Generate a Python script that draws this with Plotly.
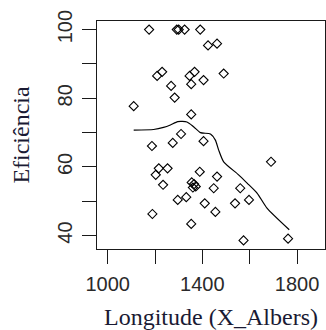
import plotly.graph_objects as go

# Scatter data
longitude = [1175, 1292, 1300, 1325, 1391, 1424, 1462, 1209, 1230, 1346, 1367, 1490,
             1405, 1353, 1268, 1283, 1110, 1353, 1310, 1187, 1275, 1405, 1690, 1216,
             1253, 1203, 1234, 1389, 1462, 1355, 1365, 1372, 1360, 1448, 1560, 1296,
             1332, 1597, 1410, 1538, 1455, 1189, 1353, 1574, 1762]
eficiencia = [100, 100, 100, 100, 100, 95.4, 95.9, 86.5, 87.7, 86.5, 87.7, 87.2,
              85.3, 84.1, 83.6, 80.2, 77.7, 75.3, 69.6, 66.1, 67.0, 67.5, 61.5, 59.6,
              59.6, 57.7, 54.8, 58.6, 57.2, 55.5, 55.0, 54.3, 54.0, 53.8, 53.8, 50.4,
              51.2, 50.4, 49.4, 49.4, 46.9, 46.3, 43.4, 38.6, 39.1]

# Smoothed (lowess) curve
smooth_x = [1110, 1194, 1236, 1265, 1296, 1335, 1363, 1392, 1434, 1455, 1469, 1490,
            1553, 1589, 1631, 1673, 1767]
smooth_y = [70.7, 70.9, 71.5, 72.2, 73.2, 73.1, 71.7, 70.0, 69.6, 67.8, 64.9, 61.5,
            57.7, 55.3, 52.4, 48.0, 41.7]

x_tickvals = [1000, 1200, 1400, 1600, 1800]
x_ticktext = ["1000", "", "1400", "", "1800"]
y_tickvals = [40, 50, 60, 70, 80, 90, 100]
y_ticktext = ["40", "", "60", "", "80", "", "100"]

ink = "#1a1a1a"
tick_color = "#2a2a2a"
title_color = "#1a1a33"

fig = go.Figure()
fig.add_trace(go.Scatter(
    x=longitude, y=eficiencia, mode="markers",
    marker=dict(symbol="diamond-open", size=7, color="black", line=dict(width=1.1, color="black")),
    showlegend=False, hoverinfo="skip"))
fig.add_trace(go.Scatter(
    x=smooth_x, y=smooth_y, mode="lines",
    line=dict(color="black", width=1.2, shape="spline", smoothing=0.6),
    showlegend=False, hoverinfo="skip"))

fig.update_layout(
    width=326, height=330,
    margin=dict(l=97, r=1, t=21, b=81),
    plot_bgcolor="white", paper_bgcolor="white",
    xaxis=dict(
        range=[955, 1918], tickvals=x_tickvals, ticktext=x_ticktext,
        ticks="outside", ticklen=14, tickwidth=1.2, tickcolor=ink,
        showline=True, mirror=True, linecolor=ink, linewidth=1.3,
        showgrid=False, zeroline=False, automargin=False,
        ticklabelstandoff=3,
        tickfont=dict(family="Liberation Sans", size=20, color=tick_color),
        title=dict(text="Longitude (X_Albers)", font=dict(family="Liberation Serif", size=24, color=title_color),
                   standoff=14),
    ),
    yaxis=dict(
        range=[36.1, 102.5], tickvals=y_tickvals, ticktext=y_ticktext,
        ticks="outside", ticklen=14, tickwidth=1.2, tickcolor=ink,
        showline=True, mirror=True, linecolor=ink, linewidth=1.3,
        showgrid=False, zeroline=False, tickangle=-90, automargin=False,
        ticklabelstandoff=2,
        tickfont=dict(family="Liberation Sans", size=20, color=tick_color),
        title=dict(text="Eficiência", font=dict(family="Liberation Serif", size=24, color=title_color),
                   standoff=17),
    ),
)

fig.write_html("out.html")
